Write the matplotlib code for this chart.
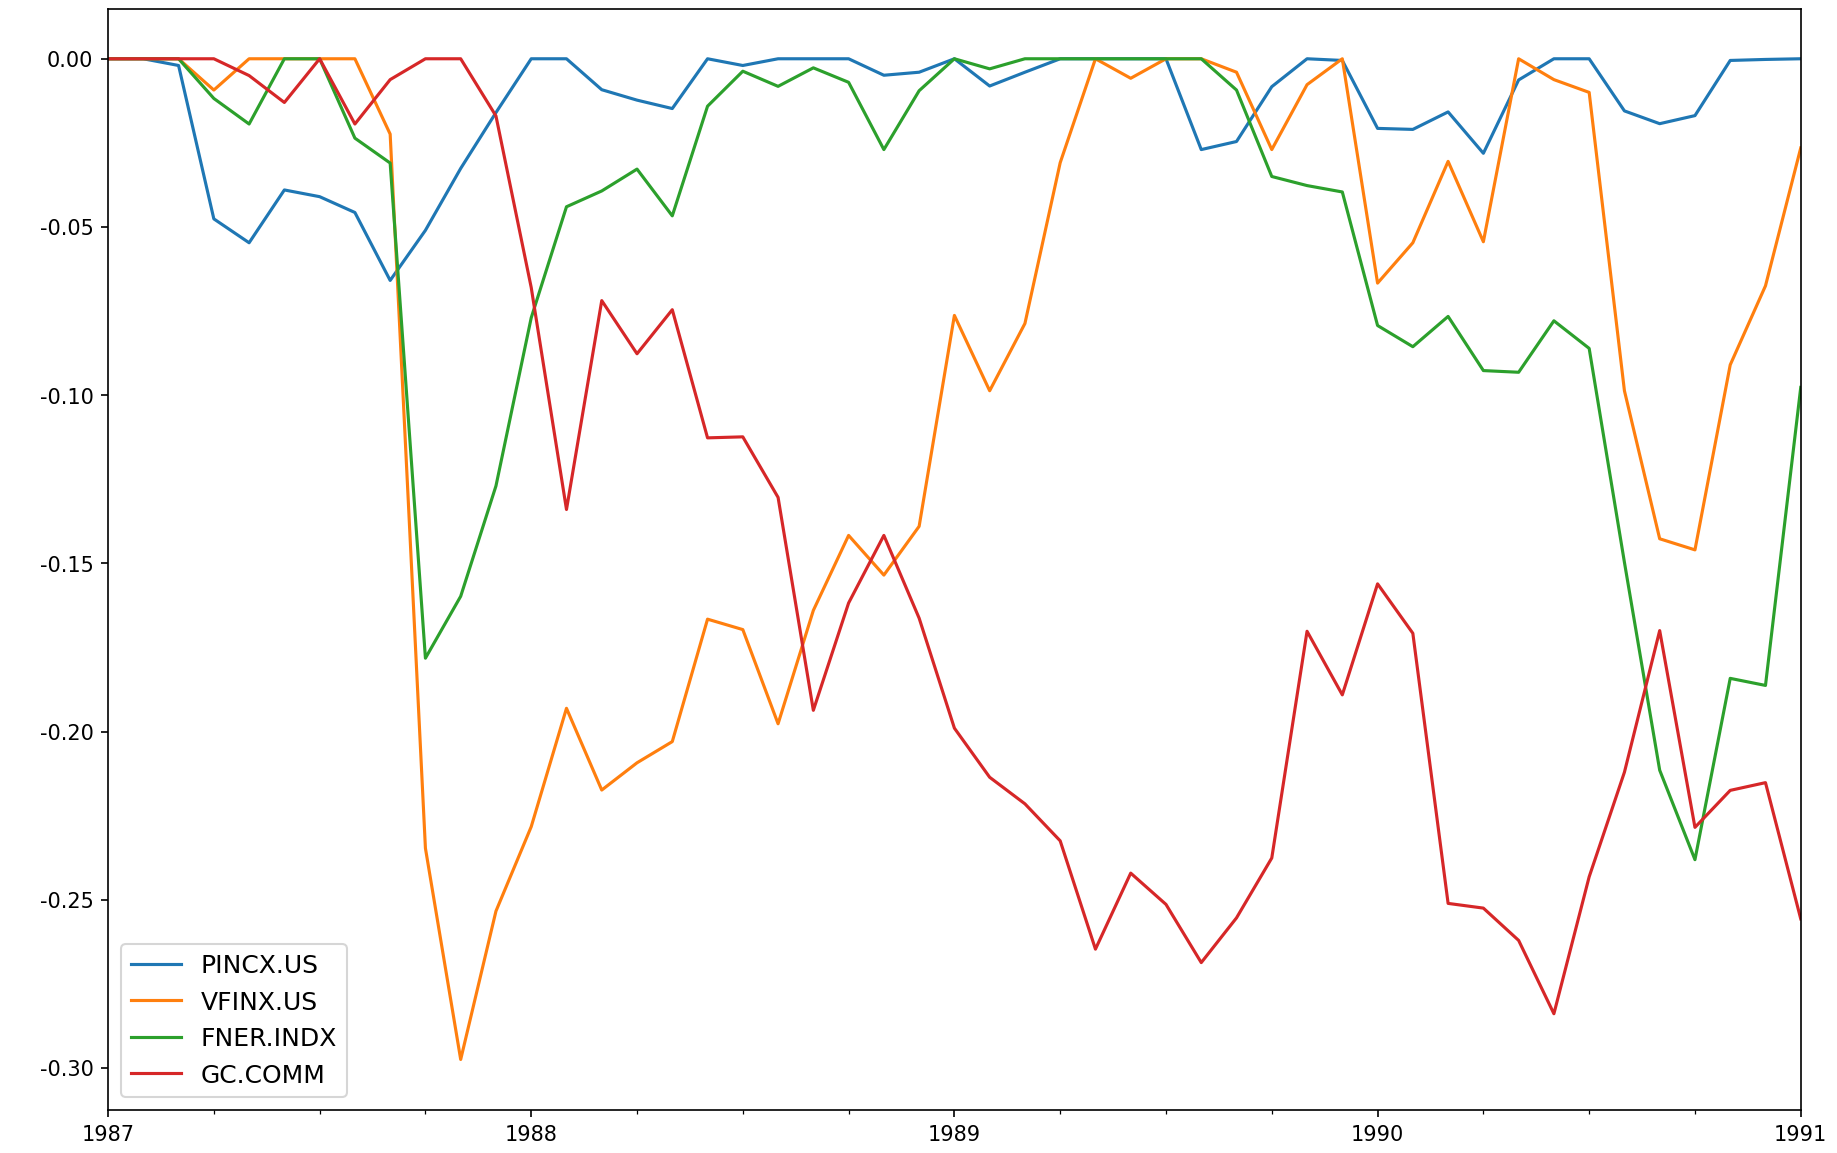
"""Drawdown curves for four assets, monthly, 1987-1991."""
import matplotlib
import matplotlib.pyplot as plt
import matplotlib.ticker as ticker

matplotlib.use("Agg")

# monthly observations, 1987-01 .. 1991-01
year_labels = ["1987", "1988", "1989", "1990", "1991"]

pincx = [
    0.0, 0.0, -0.002, -0.0476, -0.0547, -0.039, -0.041, -0.0457, -0.0659, -0.051, -0.0326, -0.016,
    0.0, 0.0, -0.0092, -0.0123, -0.0148, 0.0, -0.002, 0.0, 0.0, 0.0, -0.0049, -0.004,
    0.0, -0.0081, -0.004, 0.0, 0.0, 0.0, 0.0, -0.027, -0.0246, -0.0083, 0.0, -0.0005,
    -0.0207, -0.021, -0.0158, -0.0281, -0.0063, 0.0, 0.0, -0.0155, -0.0193, -0.0169, -0.0005, -0.0002,
    0.0,
]
vfinx = [
    0.0, 0.0, 0.0, -0.0093, 0.0, 0.0, 0.0, 0.0, -0.0224, -0.2347, -0.2975, -0.2534,
    -0.2283, -0.1931, -0.2174, -0.2093, -0.203, -0.1666, -0.1697, -0.1977, -0.164, -0.1417, -0.1535, -0.139,
    -0.0763, -0.0987, -0.0787, -0.0309, 0.0, -0.0058, 0.0, 0.0, -0.004, -0.027, -0.0077, 0.0,
    -0.0667, -0.0547, -0.0305, -0.0544, 0.0, -0.0062, -0.010, -0.0987, -0.1427, -0.146, -0.091, -0.0675,
    -0.0265,
]
fner = [
    0.0, 0.0, 0.0, -0.0118, -0.0194, 0.0, 0.0, -0.0236, -0.031, -0.1782, -0.1598, -0.127,
    -0.077, -0.044, -0.0393, -0.0328, -0.0467, -0.0141, -0.0037, -0.0082, -0.0027, -0.007, -0.027, -0.0095,
    0.0, -0.003, 0.0, 0.0, 0.0, 0.0, 0.0, 0.0, -0.0093, -0.035, -0.0377, -0.0396,
    -0.0793, -0.0856, -0.0766, -0.0927, -0.0932, -0.0779, -0.0861, -0.1497, -0.2115, -0.2381, -0.1842, -0.1863,
    -0.0977,
]
gc_comm = [
    0.0, 0.0, 0.0, 0.0, -0.005, -0.013, 0.0, -0.0194, -0.0062, 0.0, 0.0, -0.017,
    -0.068, -0.134, -0.0719, -0.0877, -0.0746, -0.1127, -0.1124, -0.1304, -0.1937, -0.1618, -0.1417, -0.1663,
    -0.199, -0.2136, -0.2215, -0.2325, -0.2647, -0.2421, -0.2514, -0.2687, -0.2554, -0.2376, -0.1702, -0.1891,
    -0.1561, -0.1708, -0.2511, -0.2525, -0.2621, -0.2839, -0.2432, -0.2121, -0.170, -0.2285, -0.2175, -0.2152,
    -0.2557,
]

series = {
    "PINCX.US": pincx,
    "VFINX.US": vfinx,
    "FNER.INDX": fner,
    "GC.COMM": gc_comm,
}

fig, ax = plt.subplots(figsize=(12.25, 7.69), dpi=150)
fig.subplots_adjust(left=0.0588, right=0.980, top=0.992, bottom=0.0377)

months = list(range(len(pincx)))
for name, values in series.items():
    ax.plot(months, values, linewidth=1.5, label=name)

ax.set_xlim(months[0], months[-1])
ax.xaxis.set_major_locator(ticker.FixedLocator(list(range(0, len(months), 12))))
ax.xaxis.set_major_formatter(ticker.FixedFormatter(year_labels))
ax.xaxis.set_minor_locator(ticker.MultipleLocator(3))
ax.yaxis.set_major_formatter(ticker.FormatStrFormatter("%.2f"))
ax.tick_params(labelsize=10)

ax.legend(loc="lower left", fontsize=12)

fig.savefig("out.png", dpi=150)
plt.close(fig)
